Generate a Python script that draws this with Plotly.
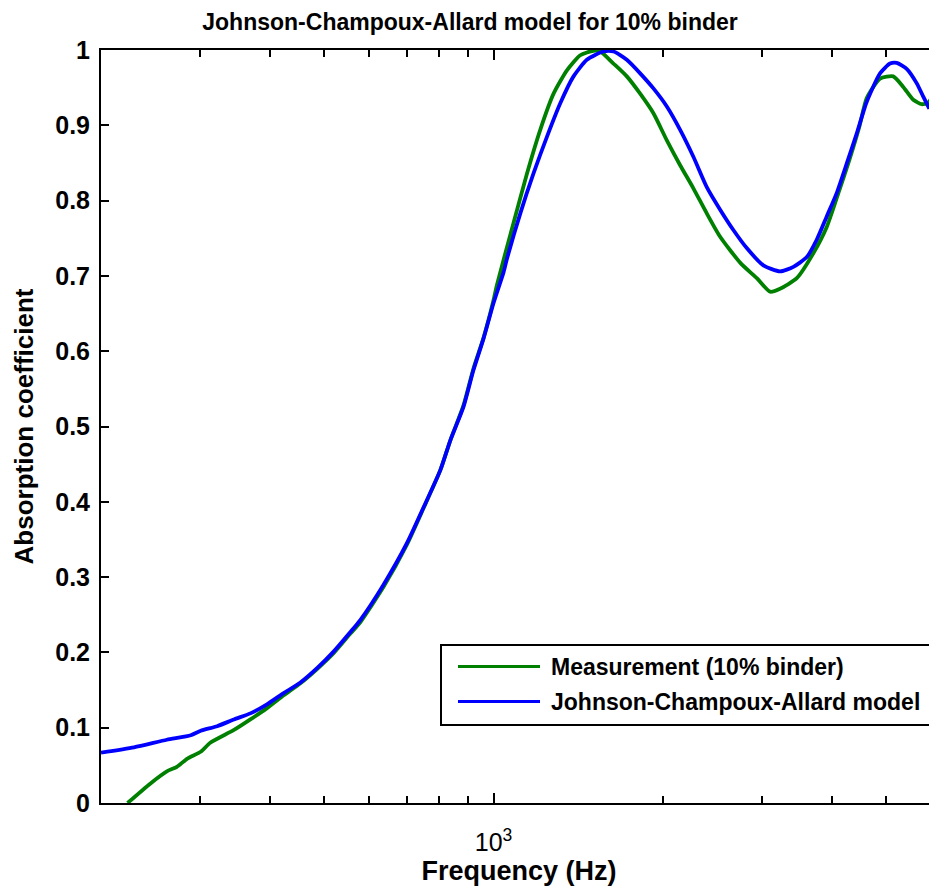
import plotly.graph_objects as go

# ---- data ----
freq_meas = [223, 245, 262, 273, 285, 301, 313, 345, 369, 395, 423, 453, 485, 519, 556, 579,
             637, 701, 751, 804, 838, 884, 921, 960, 1000, 1014, 1085, 1147, 1211, 1279, 1351,
             1427, 1506, 1549, 1635, 1727, 1824, 1926, 2035, 2149, 2270, 2397, 2532, 2753, 2943,
             3108, 3237, 3467, 3710, 3920, 4128, 4301, 4480, 4617, 4877, 5149, 5364, 5589, 5785,
             5943, 6152, 6300]
abs_meas = [0.0, 0.026, 0.042, 0.048, 0.059, 0.068, 0.080, 0.097, 0.111, 0.126, 0.143, 0.159,
            0.178, 0.199, 0.225, 0.240, 0.287, 0.343, 0.392, 0.442, 0.482, 0.528, 0.577, 0.618,
            0.668, 0.688, 0.770, 0.836, 0.894, 0.942, 0.973, 0.993, 0.999, 0.998, 0.982, 0.965,
            0.942, 0.916, 0.880, 0.847, 0.816, 0.783, 0.752, 0.717, 0.697, 0.679, 0.683, 0.697,
            0.730, 0.765, 0.814, 0.854, 0.898, 0.936, 0.962, 0.965, 0.951, 0.934, 0.928, 0.930,
            0.948, 0.960]

freq_model = [200, 229, 262, 289, 301, 322, 345, 369, 395, 423, 453, 485, 519, 556, 579, 637,
              701, 751, 804, 838, 884, 921, 960, 1000, 1042, 1056, 1116, 1178, 1245, 1314, 1388,
              1466, 1569, 1635, 1727, 1824, 1926, 2035, 2149, 2270, 2397, 2532, 2673, 2824, 3023,
              3237, 3419, 3612, 3762, 3920, 4083, 4254, 4432, 4617, 4877, 5081, 5222, 5440, 5667,
              5823, 5969]
abs_model = [0.067, 0.074, 0.084, 0.090, 0.096, 0.102, 0.111, 0.119, 0.131, 0.146, 0.160, 0.179,
             0.201, 0.227, 0.243, 0.290, 0.345, 0.393, 0.442, 0.482, 0.526, 0.575, 0.617, 0.664,
             0.705, 0.722, 0.783, 0.836, 0.885, 0.929, 0.965, 0.987, 0.998, 0.998, 0.987, 0.969,
             0.949, 0.925, 0.894, 0.858, 0.818, 0.788, 0.761, 0.737, 0.714, 0.706, 0.712, 0.725,
             0.748, 0.779, 0.810, 0.849, 0.889, 0.931, 0.969, 0.982, 0.983, 0.975, 0.956, 0.938,
             0.922]

series_names = ["Measurement (10% binder)", "Johnson-Champoux-Allard model"]
series_colors = ["#008000", "#0000ff"]
minor_ticks = [300, 400, 500, 600, 700, 800, 900, 2000, 3000, 4000, 5000, 6000]
y_ticks = [0, 0.1, 0.2, 0.3, 0.4, 0.5, 0.6, 0.7, 0.8, 0.9, 1]
y_ticktext = ["0", "0.1", "0.2", "0.3", "0.4", "0.5", "0.6", "0.7", "0.8", "0.9", "1"]

FONT = "Liberation Sans, Arial, sans-serif"

# the page body has an 8px margin; the figure is sized so that it fills the window exactly
OFF = 8
W, H = 937 - OFF, 890 - OFF
# plot area in page pixels: left 101, right 937, top 50, bottom 803
L, T = 101 - OFF, 50 - OFF
B = H - (803 - OFF)
R = 0
pw, ph = W - L - R, H - T - B


def px(x):  # page pixel -> paper x
    return (x - OFF - L) / pw


def py(y):  # page pixel -> paper y
    return (H - B - (y - OFF)) / ph


fig = go.Figure()
fig.add_trace(go.Scatter(x=freq_meas, y=abs_meas, mode="lines", name=series_names[0],
                         line=dict(color=series_colors[0], width=3.8, shape="spline", smoothing=0.6),
                         showlegend=False))
fig.add_trace(go.Scatter(x=freq_model, y=abs_model, mode="lines", name=series_names[1],
                         line=dict(color=series_colors[1], width=3.8, shape="spline", smoothing=0.6),
                         showlegend=False))

# legend box drawn by hand (it runs past the right edge, as in the reference)
shapes = [dict(type="rect", xref="paper", yref="paper", x0=px(441), x1=px(990), y0=py(725), y1=py(645),
               line=dict(color="black", width=2), fillcolor="white", layer="above")]
annotations = []
for i, (nm, col) in enumerate(zip(series_names, series_colors)):
    yy = 666.5 + i * 35
    shapes.append(dict(type="line", xref="paper", yref="paper", x0=px(458), x1=px(540), y0=py(yy), y1=py(yy),
                       line=dict(color=col, width=3), layer="above"))
    annotations.append(dict(text=nm, xref="paper", yref="paper", x=px(549), y=py(yy), xanchor="left",
                            yanchor="middle", showarrow=False,
                            font=dict(family=FONT, size=23, color="black", weight="bold")))

fig.update_layout(
    width=W, height=H,
    margin=dict(l=L, r=R, t=T, b=B, autoexpand=False),
    paper_bgcolor="white", plot_bgcolor="white",
    title=dict(text="Johnson-Champoux-Allard model for 10% binder", x=(470 - OFF) / W, xref="container",
               xanchor="center", y=1 - 6 / H, yref="container", yanchor="top", pad=dict(t=0, b=0),
               font=dict(family=FONT, size=23, color="black", weight="bold")),
    shapes=shapes, annotations=annotations, showlegend=False,
)
fig.update_xaxes(type="log", range=[2.30103, 3.7896], showgrid=False, zeroline=False,
                 showline=True, linecolor="black", linewidth=2, mirror="ticks",
                 ticks="inside", ticklen=10, tickwidth=1.5, tickcolor="black",
                 tickvals=[1000], ticktext=["10<sup>3</sup>"], ticklabelstandoff=16,
                 tickfont=dict(family=FONT, size=25, color="black"),
                 minor=dict(tickmode="array", tickvals=minor_ticks, ticks="inside", ticklen=7,
                            tickwidth=1.5, tickcolor="black", showgrid=False),
                 title=dict(text="Frequency (Hz)", standoff=0,
                            font=dict(family=FONT, size=27, color="black", weight="bold")))
fig.update_yaxes(range=[0, 1], showgrid=False, zeroline=False, showline=True, linecolor="black",
                 linewidth=2, mirror=False, ticks="inside", ticklen=8, tickwidth=1.5, tickcolor="black",
                 tickvals=y_ticks, ticktext=y_ticktext, ticklabelstandoff=4,
                 tickfont=dict(family=FONT, size=25, color="black", weight="bold"),
                 title=dict(text="Absorption coefficient", standoff=14,
                            font=dict(family=FONT, size=26, color="black", weight="bold")))

fig.write_html("out.html")
